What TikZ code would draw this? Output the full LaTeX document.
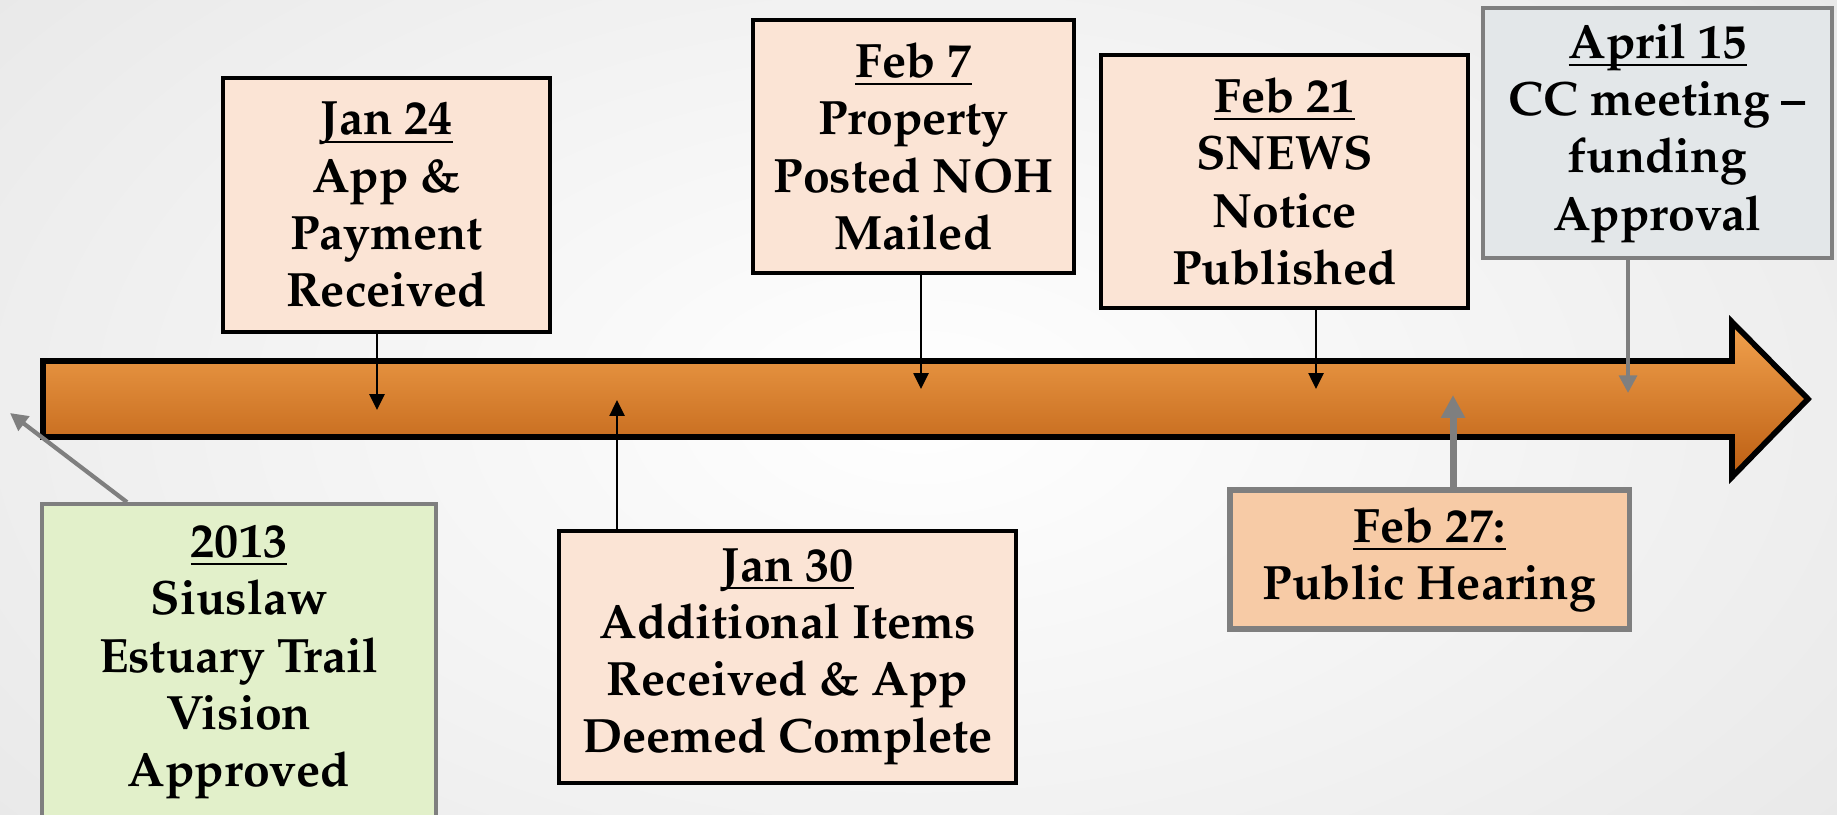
\documentclass[tikz,border=0pt]{standalone}
\usepackage[T1]{fontenc}
\usepackage{mathpazo}
\usetikzlibrary{arrows.meta}

\definecolor{peach}{HTML}{FBE4D5}
\definecolor{hearing}{HTML}{F7CBA6}
\definecolor{lime}{HTML}{E2F0CA}
\definecolor{cloud}{HTML}{E3E7E9}
\definecolor{frame}{HTML}{7F7F7F}
\definecolor{orangetop}{HTML}{F2A24E}
\definecolor{orangemid}{HTML}{EA8720}
\definecolor{orangebot}{HTML}{BC5E12}

\newcommand\dateline[1]{\underline{\raisebox{0pt}[\height][0pt]{#1}}}

\tikzset{
  event/.style={draw=black, line width=1pt, fill=peach, align=center,
    inner sep=0pt, font=\bfseries\fontsize{13.7}{16.3}\selectfont},
  greyevent/.style={event, draw=frame},
  tick/.style={line width=0.8pt, -{Triangle[width=4.2pt,length=4.5pt]}},
  greytick/.style={tick, draw=frame, line width=1.2pt, -{Triangle[width=5pt,length=5pt]}}
}

\begin{document}
\begin{tikzpicture}[x=0.01cm,y=-0.01cm]
% page and background
\clip (0,0) rectangle (1837,814);
\shade[inner color=white, outer color=black!9] (-300,-300) rectangle (2137,1114);

% the timeline arrow
\shade[top color=orangetop, middle color=orangemid, bottom color=orangebot]
  (43,361) -- (1732,361) -- (1732,322) -- (1808,399) -- (1732,477) -- (1732,437) -- (43,437) -- cycle;
\draw[line width=1.6pt, line join=miter]
  (43,361) -- (1732,361) -- (1732,322) -- (1808,399) -- (1732,477) -- (1732,437) -- (43,437) -- cycle;

% points on the arrow
\coordinate (p24) at (377,410);
\coordinate (p30) at (617,400);
\coordinate (p7)  at (921,389);
\coordinate (p21) at (1316,389);
\coordinate (p27) at (1453,395);
\coordinate (p15) at (1628,393);
\coordinate (pold) at (10,413);
\coordinate (pvis) at (127,0);

% the events
\node[event, minimum width=3.27cm, minimum height=2.54cm] (jan24) at (386.5,205)
  {\dateline{Jan 24}\\App \&\\Payment\\Received};
\node[event, minimum width=3.21cm, minimum height=2.53cm] (feb7) at (913.5,146.5)
  {\dateline{Feb 7}\\Property\\Posted NOH\\Mailed};
\node[event, minimum width=3.67cm, minimum height=2.53cm] (feb21) at (1284.5,181.5)
  {\dateline{Feb 21}\\SNEWS\\Notice\\Published};
\node[greyevent, fill=cloud, minimum width=3.49cm, minimum height=2.5cm] (apr15) at (1657.5,133)
  {\dateline{April 15}\\CC meeting --\\funding\\Approval};
\node[greyevent, fill=hearing, line width=1.5pt, minimum width=3.99cm, minimum height=1.39cm] (feb27) at (1429.5,559.5)
  {\dateline{Feb 27:}\\Public Hearing};
\node[event, minimum width=4.57cm, minimum height=2.52cm] (jan30) at (787.5,657)
  {\dateline{Jan 30}\\Additional Items\\Received \& App\\Deemed Complete};
\node[greyevent, fill=lime, minimum width=3.94cm, minimum height=3.16cm] (vision) at (239,662)
  {\dateline{2013}\\Siuslaw\\Estuary Trail\\Vision\\Approved};

% connectors
\draw[tick] (jan24.south -| p24) -- (p24);
\draw[tick] (feb7.south -| p7) -- (p7);
\draw[tick] (feb21.south -| p21) -- (p21);
\draw[tick] (jan30.north -| p30) -- (p30);
\draw[greytick] (apr15.south -| p15) -- (p15);
\draw[greytick, line width=2pt, -{Triangle[width=6.5pt,length=6.5pt]}] (feb27.north -| p27) -- (p27);
\draw[greytick] (vision.north -| pvis) -- (pold);
\end{tikzpicture}
\end{document}
